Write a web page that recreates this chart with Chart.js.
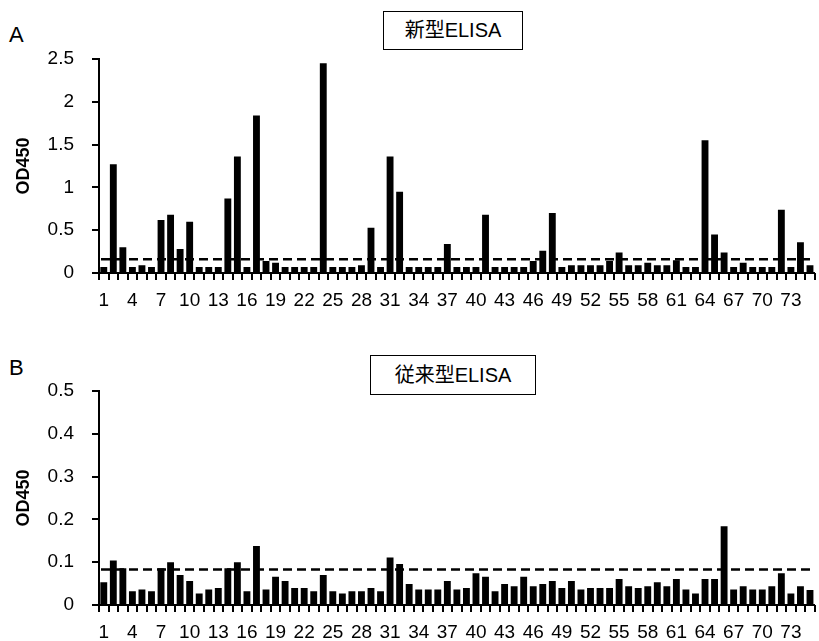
<!DOCTYPE html>
<html>
<head>
<meta charset="utf-8">
<script src="https://cdn.jsdelivr.net/npm/chart.js@4.4.1/dist/chart.umd.min.js"></script>
<style>
  body { margin: 0; background: #fff; width: 819px; height: 641px; position: relative; overflow: hidden; font-family: "Liberation Sans", Arial, sans-serif; }
  .wrap { position: absolute; left: 0; width: 819px; height: 310px; }
  .panel { position: absolute; font-size: 22px; color: #000; }
  .tbox { position: absolute; border: 1px solid #000; background: #fff; text-align: center; font-size: 20px; color: #000;
          font-family: "Liberation Sans", "Noto Sans CJK JP", sans-serif; box-sizing: border-box; }
</style>
</head>
<body>
<div class="panel" style="left:9px; top:22px;">A</div>
<div class="panel" style="left:9px; top:355px;">B</div>
<div class="tbox" style="left:383px; top:11px; width:140px; height:39px; line-height:37px;">新型ELISA</div>
<div class="tbox" style="left:370px; top:355px; width:166px; height:40px; line-height:38px;">従来型ELISA</div>
<div class="wrap" style="top:0px;"><canvas id="chartA"></canvas></div>
<div class="wrap" style="top:332px;"><canvas id="chartB"></canvas></div>
<script>
// sample numbers 1..75
var samples = [];
for (var i = 1; i <= 75; i++) samples.push(String(i));

// A: new ELISA OD450
var odNew = [
  0.07,1.27,0.30,0.07,0.09,0.07,0.62,0.68,0.28,0.60,
  0.07,0.07,0.07,0.87,1.36,0.07,1.84,0.14,0.12,0.07,
  0.07,0.07,0.07,2.45,0.07,0.07,0.07,0.09,0.53,0.07,
  1.36,0.95,0.07,0.07,0.07,0.07,0.34,0.07,0.07,0.07,
  0.68,0.07,0.07,0.07,0.07,0.14,0.26,0.70,0.07,0.09,
  0.09,0.09,0.09,0.14,0.24,0.09,0.09,0.12,0.09,0.09,
  0.15,0.07,0.07,1.55,0.45,0.24,0.07,0.12,0.07,0.07,
  0.07,0.74,0.07,0.36,0.09
];
// B: conventional ELISA OD450
var odOld = [
  0.053,0.104,0.086,0.032,0.036,0.032,0.086,0.100,0.070,0.056,
  0.027,0.036,0.040,0.086,0.100,0.032,0.138,0.036,0.066,0.056,
  0.040,0.040,0.032,0.070,0.032,0.027,0.032,0.032,0.040,0.032,
  0.111,0.096,0.049,0.036,0.036,0.036,0.056,0.036,0.040,0.074,
  0.066,0.032,0.049,0.044,0.066,0.044,0.049,0.056,0.040,0.056,
  0.036,0.040,0.040,0.040,0.061,0.044,0.040,0.044,0.053,0.044,
  0.061,0.036,0.027,0.061,0.061,0.184,0.036,0.044,0.036,0.036,
  0.044,0.074,0.027,0.044,0.035
];
var cutoffNew = 0.16;
var cutoffOld = 0.083;
var yTicksNew = [0, 0.5, 1, 1.5, 2, 2.5];
var yTicksOld = [0, 0.1, 0.2, 0.3, 0.4, 0.5];

var font = "'Liberation Sans', Arial, sans-serif";

// dashed cut-off line + outward tick marks
function extrasPlugin(cutoff, yTicks) {
  return {
    id: 'extras',
    afterDraw: function(chart) {
      var c = chart.ctx, a = chart.chartArea;
      var xs = chart.scales.x, ys = chart.scales.y;
      c.save();
      c.strokeStyle = '#000';
      c.lineWidth = 2;
      c.beginPath();
      var half = (xs.getPixelForValue(1) - xs.getPixelForValue(0)) / 2;
      for (var i = 0; i <= samples.length; i++) {
        var px = Math.round(xs.getPixelForValue(i) - half);
        c.moveTo(px, a.bottom);
        c.lineTo(px, a.bottom + 7);
      }
      for (var k = 0; k < yTicks.length; k++) {
        var py = Math.round(ys.getPixelForValue(yTicks[k]));
        c.moveTo(a.left - 7, py);
        c.lineTo(a.left, py);
      }
      c.stroke();
      var y = ys.getPixelForValue(cutoff);
      c.lineWidth = 2.5;
      c.setLineDash([9, 5]);
      c.beginPath();
      c.moveTo(a.left + 2, y);
      c.lineTo(a.right, y);
      c.stroke();
      c.restore();
    }
  };
}

function makeChart(id, values, yTicks, cutoff) {
  var ctx = document.getElementById(id);
  return new Chart(ctx, {
    type: 'bar',
    data: {
      labels: samples,
      datasets: [{
        data: values,
        backgroundColor: '#000',
        borderWidth: 0,
        barPercentage: 0.72,
        categoryPercentage: 1.0
      }]
    },
    options: {
      responsive: true,
      maintainAspectRatio: false,
      animation: false,
      events: [],
      layout: { padding: { top: 59, right: 1, left: 0, bottom: 0 } },
      plugins: {
        legend: { display: false },
        tooltip: { enabled: false }
      },
      scales: {
        x: {
          offset: true,
          grid: { display: false, drawTicks: true, tickLength: 7 },
          border: { display: true, color: '#000', width: 2 },
          ticks: {
            autoSkip: false, maxRotation: 0, minRotation: 0, padding: 9,
            color: '#000', font: { family: font, size: 19 },
            callback: function(v, i) { return i % 3 === 0 ? samples[i] : ''; }
          },
          afterFit: function(s) { s.height = 37; }
        },
        y: {
          min: yTicks[0],
          max: yTicks[yTicks.length - 1],
          afterBuildTicks: function(s) { s.ticks = yTicks.map(function(v) { return { value: v }; }); },
          grid: { display: false, drawTicks: true, tickLength: 7 },
          border: { display: true, color: '#000', width: 2 },
          ticks: {
            padding: 18, color: '#000', font: { family: font, size: 19 },
            callback: function(v) { return String(v); }
          },
          title: {
            display: true, text: 'OD450', color: '#000',
            font: { family: font, size: 18, weight: 'bold' },
            padding: { top: 13, bottom: 0 }
          },
          afterFit: function(s) { s.width = 99; }
        }
      }
    },
    plugins: [extrasPlugin(cutoff, yTicks)]
  });
}

makeChart('chartA', odNew, yTicksNew, cutoffNew);
makeChart('chartB', odOld, yTicksOld, cutoffOld);
</script>
</body>
</html>
